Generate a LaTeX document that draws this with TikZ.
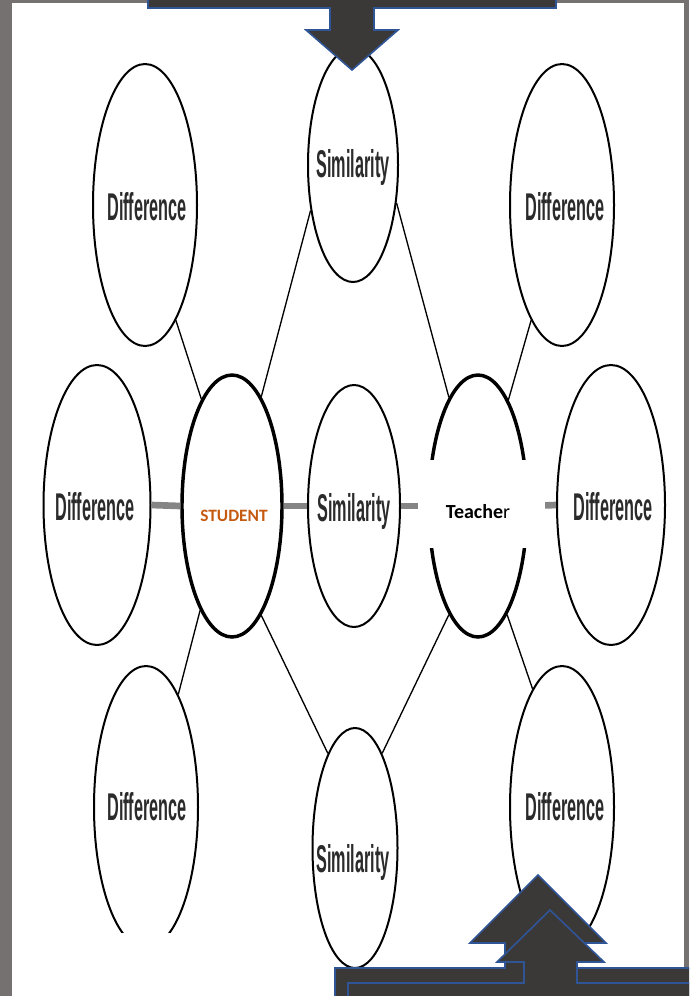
\documentclass[tikz,border=0pt]{standalone}
\usepackage{fontspec}
\usetikzlibrary{shapes.geometric}
\newfontfamily\libsans{Liberation Sans}
\newfontfamily\carlito{Carlito}
\definecolor{bggray}{HTML}{767171}
\definecolor{arrfill}{HTML}{3B3838}
\definecolor{arrline}{HTML}{2F5597}
\definecolor{stuorange}{HTML}{C55A11}
\definecolor{linkgray}{HTML}{858585}
\definecolor{txtgray}{HTML}{2B2B2B}
\tikzset{
  ell/.style={ellipse, draw=black, line width=1.5pt, inner sep=0pt, fill=white},
  thickell/.style={ell, line width=2.6pt},
  dtxt/.style={font=\libsans\bfseries\fontsize{29}{29}\selectfont, text=txtgray, inner sep=0pt, anchor=base},
  link/.style={line width=1pt, draw=black},
  hlink/.style={line width=5pt, draw=linkgray},
  arrshape/.style={fill=arrfill, draw=arrline, line width=1.2pt, line join=miter},
  whitebox/.style={fill=white, draw=none, inner sep=0pt}
}
\begin{document}
\begin{tikzpicture}[x=0.75pt, y=-0.75pt]
\useasboundingbox (0,0) rectangle (689,996);
\clip (0,0) rectangle (689,996);
\fill[bggray] (0,0) rectangle (689,996);
\fill[white] (12,3) rectangle (684,1000);

% ellipses
\node[ell, minimum width=78pt, minimum height=211.5pt] (dTL) at (145,205) {};
\node[ell, minimum width=78pt, minimum height=211.5pt] (dTR) at (562,205) {};
\node[ell, minimum width=80.25pt, minimum height=210pt] (dML) at (97,505) {};
\node[ell, minimum width=81pt, minimum height=210pt] (dMR) at (611,505) {};
\node[ell, minimum width=78pt, minimum height=211.5pt] (dBL) at (146,807) {};
\node[ell, minimum width=78pt, minimum height=211.5pt] (dBR) at (562,807) {};
\node[ell, minimum width=67.5pt, minimum height=175.5pt] (sT) at (353,165) {};
\node[ell, minimum width=69pt, minimum height=181.5pt] (sM) at (354,506) {};
\node[ell, minimum width=63.75pt, minimum height=180pt] (sB) at (355,848) {};
\node[thickell, minimum width=75pt, minimum height=196.5pt] (stu) at (232,506) {};
\node[thickell, minimum width=73.5pt, minimum height=196.5pt] (tea) at (478,506) {};

% thin connectors
\draw[link] (sT.227.7) -- (stu.75.8);
\draw[link] (sT.319) -- (tea.105.5);
\draw[link] (dTL.285.6) -- (stu.106.8);
\draw[link] (dTR.255.4) -- (tea.74.7);
\draw[link] (dBL.74.4) -- (stu.253.2);
\draw[link] (dBR.104.6) -- (tea.285.3);
\draw[link] (stu.285.4) -- (sB.106.4);
\draw[link] (tea.255) -- (sB.74);

% thick gray connectors
\draw[hlink] (dML.east) -- (stu.west);
\draw[hlink] (stu.east) -- (sM.west);
\draw[hlink] (sM.east) -- (tea.west);
\draw[hlink] (tea.east) -- (dMR.west);

% cropped bottom of lower-left ellipse
\node[whitebox, minimum width=180pt, minimum height=45pt, anchor=north west] (crop) at (60,933) {};

% white box over teacher
\node[whitebox, minimum width=95.25pt, minimum height=66pt] (tbox) at (481.5,504) {};

% texts
\node[dtxt] (dTLt) at (147,220) {\scalebox{0.42}[1]{Difference}};
\node[dtxt] (dTRt) at (565,220) {\scalebox{0.42}[1]{Difference}};
\node[dtxt] (dMLt) at (95,520) {\scalebox{0.42}[1]{Difference}};
\node[dtxt] (dMRt) at (613,520) {\scalebox{0.42}[1]{Difference}};
\node[dtxt] (dBLt) at (147,820) {\scalebox{0.42}[1]{Difference}};
\node[dtxt] (dBRt) at (565,820) {\scalebox{0.42}[1]{Difference}};
\node[dtxt] (sTt) at (353,177) {\scalebox{0.42}[1]{Similarity}};
\node[dtxt] (sMt) at (354,521) {\scalebox{0.42}[1]{Similarity}};
\node[dtxt] (sBt) at (353,872) {\scalebox{0.42}[1]{Similarity}};
\node[anchor=base, inner sep=0pt, text=stuorange, font=\carlito\bfseries\fontsize{13}{13}\selectfont] (stut) at (234,521) {STUDENT};
\node[anchor=base, inner sep=0pt, text=black, font=\carlito\fontsize{15}{15}\selectfont] (teat) at (478,518) {\textbf{Teache}r};

% block arrows
\draw[arrshape] (148,-10) -- (148,8) -- (330,8) -- (330,30) -- (306,30) -- (352,70) -- (398,30) -- (374,30) -- (374,8) -- (556,8) -- (556,-10) -- cycle;
\draw[arrshape] (335,1010) -- (335,968) -- (505,968) -- (505,943) -- (470,943) -- (538,875) -- (606,943) -- (571,943) -- (571,968) -- (700,968) -- (700,1010) -- cycle;
\draw[arrshape] (348,1010) -- (348,983) -- (524,983) -- (524,962) -- (497,962) -- (550,910) -- (604,962) -- (577,962) -- (577,983) -- (700,983) -- (700,1010) -- cycle;
\end{tikzpicture}
\end{document}
